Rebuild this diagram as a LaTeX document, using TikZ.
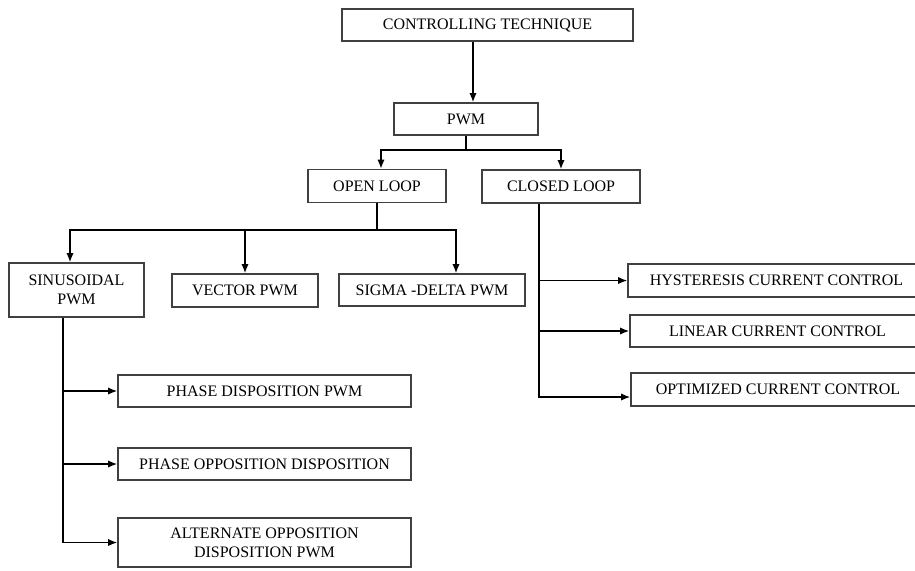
\documentclass[tikz,border=0pt]{standalone}
\usepackage{fontspec}
\setmainfont{Liberation Serif}
\usetikzlibrary{arrows.meta}
\begin{document}
\begin{tikzpicture}[x=0.5pt,y=-0.5pt,
    box/.style={draw=black!75,line width=0.8pt,inner sep=0pt,align=center,
      font=\fontsize{8}{9.5}\selectfont},
    arr/.style={-{Latex[length=4.5pt,width=3.6pt]},line width=0.7pt}]
    \useasboundingbox (0,0) rectangle (915,570);
    \clip (0,0) rectangle (915,570);
    % top of the tree
    \node[box,minimum width=145.5pt,minimum height=16pt] (ct) at (487.5,25) {CONTROLLING TECHNIQUE};
    \node[box,minimum width=72pt,minimum height=16pt] (pwm) at (466,119) {PWM};
    \node[box,minimum width=69pt,minimum height=16.5pt] (open) at (377,186) {OPEN LOOP};
    \node[box,minimum width=79pt,minimum height=16.5pt] (closed) at (561,186.5) {CLOSED LOOP};
    % open loop
    \node[box,minimum width=67.5pt,minimum height=27pt] (sin) at (76.5,290) {SINUSOIDAL\\PWM};
    \node[box,minimum width=73pt,minimum height=16.5pt] (vec) at (245,290.5) {VECTOR PWM};
    \node[box,minimum width=93pt,minimum height=16pt] (sig) at (432,290) {SIGMA -DELTA PWM};
    \node[box,minimum width=146.5pt,minimum height=16pt] (pd) at (264.5,391) {PHASE DISPOSITION PWM};
    \node[box,minimum width=146.5pt,minimum height=16pt] (pod) at (264.5,464) {PHASE OPPOSITION DISPOSITION};
    \node[box,minimum width=146.5pt,minimum height=24.5pt] (aod) at (264.5,542.5) {ALTERNATE OPPOSITION\\DISPOSITION PWM};
    % closed loop
    \node[box,minimum width=148.5pt,minimum height=16.5pt] (hcc) at (776.5,280.5) {HYSTERESIS CURRENT CONTROL};
    \node[box,minimum width=147.5pt,minimum height=16pt] (lcc) at (777.5,331) {LINEAR CURRENT CONTROL};
    \node[box,minimum width=147pt,minimum height=16.5pt] (occ) at (778,389.5) {OPTIMIZED CURRENT CONTROL};

    \coordinate (ja) at (466,150);
    \coordinate (jb) at (377,230);
    \draw[arr] ([xshift=3.5pt]pwm.north |- ct.south) -- ([xshift=3.5pt]pwm.north);
    \draw[line width=0.7pt] (pwm) -- (ja);
    \draw[arr] (ja) -| ([xshift=2pt]open.north);
    \draw[arr] (ja) -| (closed);
    \draw[line width=0.7pt] (open) -- (jb);
    \draw[arr] (jb) -| ([xshift=-3.25pt]sin.north);
    \draw[arr] (jb) -| (vec);
    \draw[arr] (jb) -| ([xshift=12pt]sig.north);
    \draw[arr] ([xshift=-6.75pt]sin.south) |- (aod);
    \draw[arr] ([xshift=-6.75pt]sin.south |- pd.west) -- (pd.west);
    \draw[arr] ([xshift=-6.75pt]sin.south |- pod.west) -- (pod.west);
    \draw[arr] ([xshift=-11pt]closed.south) |- ([yshift=-3.75pt]occ.west);
    \draw[arr] ([xshift=-11pt]closed.south |- hcc.west) -- (hcc.west);
    \draw[arr] ([xshift=-11pt]closed.south |- lcc.west) -- (lcc.west);
\end{tikzpicture}
\end{document}
